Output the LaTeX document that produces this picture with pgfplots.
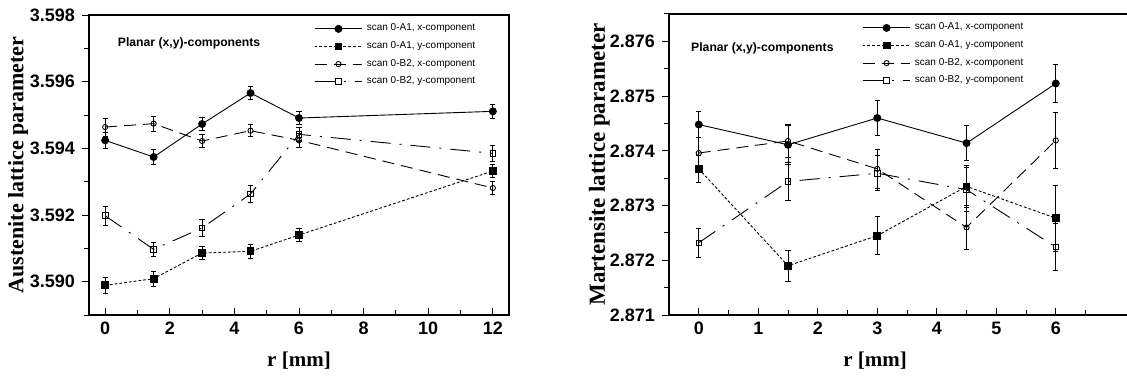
\documentclass[border=0pt]{standalone}
\usepackage{pgfplots}
\pgfplotsset{compat=1.18}
\usepackage{fontspec}
\setmainfont{Liberation Sans}
\newfontfamily\timesfont{Liberation Serif}
\begin{document}
\begin{tikzpicture}
\pgfplotsset{
  myaxis/.style={
    scale only axis,
    height=150pt,
    ymin=3.589, ymax=3.598,
    tick pos=left,
    xtick align=inside, ytick align=outside,
    major tick length=3.5pt, minor tick length=2.5pt,
    tick style={black, line width=0.5pt},
    axis line style={line width=0.6pt},
    /pgf/number format/assume math mode=true,
    ticklabel style={font=\fontsize{9}{10}\selectfont\bfseries},
    xlabel style={font=\fontsize{10.5}{12}\selectfont\timesfont\bfseries},
    ylabel style={font=\fontsize{11}{12}\selectfont\timesfont\bfseries},
    legend cell align=left,
    legend style={draw=none, fill=none, font=\fontsize{5}{6}\selectfont,
      row sep=-0.2pt, inner sep=0pt, anchor=north west},
    legend image code/.code={\draw[mark repeat=2,mark phase=2] plot coordinates {(0cm,0cm)(0.42cm,0cm)(0.84cm,0cm)};},
    error bars/error bar style={line width=0.45pt, solid, black},
    error bars/error mark options={rotate=90, mark size=1.3pt, line width=0.45pt, solid, black},
  },
  s1/.style={black, line width=0.45pt, solid, mark=*, mark size=1.75pt, mark options={solid, fill=black}},
  s2/.style={black, line width=0.45pt, dash pattern=on 1.4pt off 1pt, mark=square*, mark size=1.7pt, mark options={solid, fill=black}},
  s3/.style={black, line width=0.45pt, dash pattern=on 6pt off 3.5pt, mark=o, mark size=1.3pt, mark options={solid, fill=white}},
  s4/.style={black, line width=0.45pt, dash pattern=on 10pt off 4.5pt on 1pt off 4.5pt, mark=square, mark size=1.4pt, mark options={solid, fill=white}},
}
% ---------------- left axis ----------------
\begin{axis}[myaxis,
  width=210pt,
  xmin=-0.5, xmax=12.5,
  xtick={0,2,...,12}, minor xtick={1,3,...,11},
  ytick={3.590,3.592,3.594,3.596,3.598}, minor ytick={3.589,3.591,3.593,3.595,3.597},
  yticklabel style={/pgf/number format/.cd, fixed, fixed zerofill, precision=3},
  scaled y ticks=false,
  xlabel={r [mm]}, ylabel={Austenite lattice parameter},
  xlabel style={at={(axis description cs:0.5,0)}, anchor=center, yshift=-23pt},
  ylabel style={at={(axis description cs:-0.169,0.5)}, anchor=center},
  legend style={at={(axis description cs:0.535,0.985)}},
]
\addplot[s1, error bars/.cd, y dir=both, y explicit] coordinates {
 (0,3.59424) +- (0,0.00023) (1.5,3.59374) +- (0,0.00023) (3,3.59473) +- (0,0.0002)
 (4.5,3.59566) +- (0,0.0002) (6,3.59491) +- (0,0.0002) (12,3.59511) +- (0,0.0002)};
\addplot[s2, error bars/.cd, y dir=both, y explicit] coordinates {
 (0,3.58989) +- (0,0.00025) (1.5,3.59009) +- (0,0.00023) (3,3.59086) +- (0,0.0002)
 (4.5,3.59091) +- (0,0.0002) (6,3.59140) +- (0,0.0002) (12,3.59332) +- (0,0.0002)};
\addplot[s3, error bars/.cd, y dir=both, y explicit] coordinates {
 (0,3.59464) +- (0,0.00027) (1.5,3.59474) +- (0,0.00022) (3,3.59422) +- (0,0.0002)
 (4.5,3.59453) +- (0,0.00018) (6,3.59424) +- (0,0.0002) (12,3.59281) +- (0,0.0002)};
\addplot[s4, error bars/.cd, y dir=both, y explicit] coordinates {
 (0,3.59198) +- (0,0.00028) (1.5,3.59097) +- (0,0.0002) (3,3.59161) +- (0,0.00025)
 (4.5,3.59263) +- (0,0.00025) (6,3.59442) +- (0,0.0002) (12,3.59385) +- (0,0.00025)};
\legend{scan 0-A1{,} x-component, scan 0-A1{,} y-component, scan 0-B2{,} x-component, scan 0-B2{,} y-component}
\node[anchor=west, font=\fontsize{6.1}{7}\selectfont\bfseries] at (axis description cs:0.052,0.907) {Planar (x,y)-components};
\end{axis}
% ---------------- right axis ----------------
\begin{axis}[myaxis,
  at={(290pt,0pt)},
  width=229pt, height=150.5pt,
  axis x line*=box, axis y line*=left,
  xmin=-0.5, xmax=7.197,
  ymin=2.871, ymax=2.8765,
  xtick={0,1,...,6}, minor xtick={0.5,1.5,...,6.5},
  ytick={2.871,2.872,...,2.876}, minor ytick={2.8715,2.8725,2.8735,2.8745,2.8755,2.8765},
  yticklabel style={/pgf/number format/.cd, fixed, fixed zerofill, precision=3},
  scaled y ticks=false,
  xlabel={r [mm]}, ylabel={Martensite lattice parameter},
  xlabel style={at={(axis description cs:0.45,0)}, anchor=center, yshift=-23pt},
  ylabel style={at={(axis description cs:-0.152,0.5)}, anchor=center, font=\fontsize{11.5}{12}\selectfont\timesfont\bfseries},
  legend style={at={(axis description cs:0.421,0.985)}},
]
\addplot[s1, error bars/.cd, y dir=both, y explicit] coordinates {
 (0,2.87448) +- (0,0.00024) (1.5,2.87411) +- (0,0.00035) (3,2.87460) +- (0,0.00032)
 (4.5,2.87414) +- (0,0.00032) (6,2.87523) +- (0,0.00035)};
\addplot[s2, error bars/.cd, y dir=both, y explicit] coordinates {
 (0,2.87367) +- (0,0.00025) (1.5,2.87190) +- (0,0.00028) (3,2.87245) +- (0,0.00035)
 (4.5,2.87335) +- (0,0.00038) (6,2.87277) +- (0,0.0006)};
\addplot[s3, error bars/.cd, y dir=both, y explicit] coordinates {
 (0,2.87396) +- (0,0.00028) (1.5,2.87418) +- (0,0.0003) (3,2.87367) +- (0,0.00035)
 (4.5,2.87260) +- (0,0.0004) (6,2.87419) +- (0,0.00052)};
\addplot[s4, error bars/.cd, y dir=both, y explicit] coordinates {
 (0,2.87232) +- (0,0.00026) (1.5,2.87344) +- (0,0.00035) (3,2.87359) +- (0,0.00032)
 (4.5,2.87329) +- (0,0.0004) (6,2.87224) +- (0,0.00043)};
\legend{scan 0-A1{,} x-component, scan 0-A1{,} y-component, scan 0-B2{,} x-component, scan 0-B2{,} y-component}
\node[anchor=west, font=\fontsize{6.1}{7}\selectfont\bfseries] at (axis description cs:0.033,0.887) {Planar (x,y)-components};
\end{axis}
\pgfresetboundingbox
\useasboundingbox (-44.5pt,-30.5pt) rectangle (519pt,157.5pt);
\end{tikzpicture}
\end{document}
